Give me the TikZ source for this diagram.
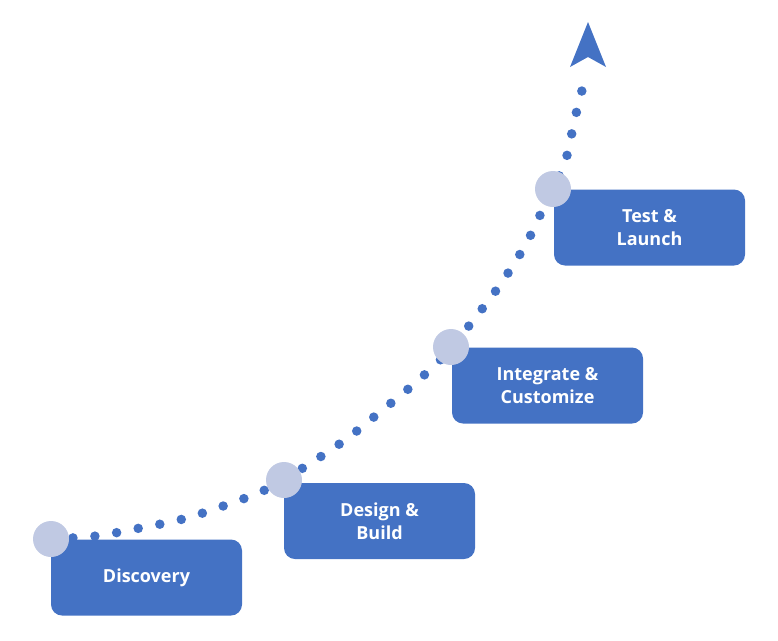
\documentclass[tikz,border=0pt]{standalone}
\usepackage{fontspec}
\setmainfont{Open Sans}
\definecolor{boxblue}{HTML}{4472C4}
\definecolor{dotlight}{HTML}{C0C9E3}
\begin{document}
\begin{tikzpicture}[x=1pt,y=-1pt,
  stagebox/.style={fill=boxblue,rounded corners=11pt,minimum width=191pt,minimum height=76pt,text=white,align=center,font=\fontsize{18}{23}\selectfont\bfseries,inner sep=0pt},
  milestone/.style={circle,fill=dotlight,minimum size=36pt,inner sep=0pt}]
\useasboundingbox (0,0) rectangle (778,640);
\draw[boxblue,line width=9.5pt,line cap=round,dash pattern=on 0pt off 22pt]
  plot[smooth,tension=0.6] coordinates {(51,539) (96,536) (140,528) (183,519) (226,505) (267,489) (306,466) (345,440) (380,412) (414,384) (445,355) (475,318) (502,282) (527,242) (547,200) (565,162) (575,118) (586,75)};
\node[stagebox] (d) at (146.5,577.5) {Discovery};
\node[stagebox] (b) at (379.5,521) {Design \&\\Build};
\node[stagebox] (i) at (547.5,385.5) {Integrate \&\\Customize};
\node[stagebox] (t) at (649.5,227.5) {Test \&\\Launch};
\node[milestone] (c1) at (51,539) {};
\node[milestone] (c2) at (284,480) {};
\node[milestone] (c3) at (451,347) {};
\node[milestone] (c4) at (553,189) {};
\fill[boxblue] (588,22) -- (606,67) -- (588,57) -- (570,67) -- cycle;
\end{tikzpicture}
\end{document}
